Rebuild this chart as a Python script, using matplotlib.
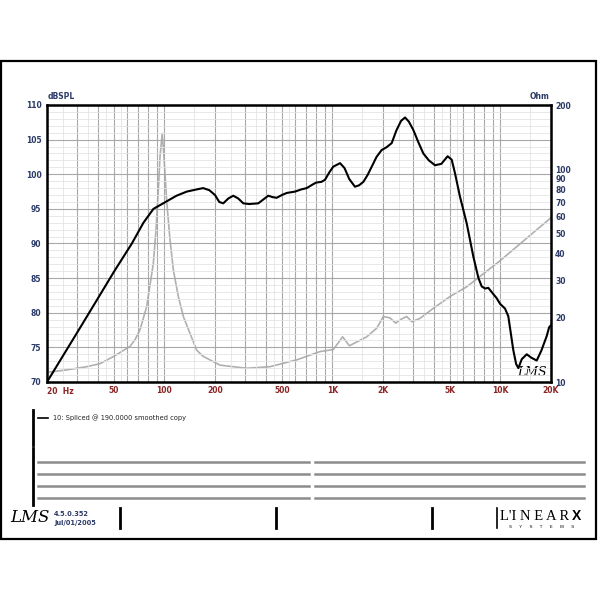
import numpy as np
import matplotlib.pyplot as plt
from matplotlib.patches import Rectangle
from matplotlib.ticker import NullFormatter

# SPL response (Hz, dB)
spl_freq = [20, 30, 40, 50, 64, 75, 86, 100, 118, 136, 155, 170, 185, 200, 212, 224,
            240, 257, 275, 295, 320, 362, 390, 415, 440, 466, 500, 535, 600, 650, 703,
            760, 800, 860, 903, 960, 1012, 1110, 1180, 1260, 1362, 1440, 1528, 1620,
            1714, 1830, 1964, 2100, 2254, 2400, 2560, 2706, 2850, 3030, 3250, 3476,
            3750, 4080, 4450, 4850, 5130, 5370, 5740, 6300, 6900, 7400, 7740, 8100,
            8470, 9000, 9500, 9940, 10650, 11140, 11930, 12400, 12790, 13400, 14340,
            15300, 16440, 17500, 18840, 19500, 20000]
spl_db = [70.0, 77.0, 82.0, 85.9, 90.0, 93.0, 95.0, 95.9, 96.9, 97.5, 97.8, 98.0, 97.7,
          97.0, 96.0, 95.8, 96.5, 96.9, 96.5, 95.8, 95.7, 95.8, 96.4, 96.9, 96.7, 96.6,
          97.0, 97.3, 97.5, 97.8, 98.0, 98.5, 98.8, 98.9, 99.2, 100.3, 101.1, 101.6,
          100.9, 99.3, 98.2, 98.4, 98.9, 99.9, 101.1, 102.5, 103.5, 103.9, 104.5, 106.3,
          107.7, 108.2, 107.6, 106.4, 104.6, 103.0, 102.0, 101.3, 101.5, 102.6, 102.1,
          100.1, 96.8, 92.9, 88.1, 85.0, 83.8, 83.5, 83.6, 82.8, 82.1, 81.3, 80.6, 79.5,
          74.6, 72.6, 72.0, 73.3, 74.0, 73.5, 73.1, 74.5, 76.6, 77.9, 78.2]

# impedance (Hz, Ohm)
imp_freq = [20, 26.2, 34.5, 41.4, 50, 62.4, 66.8, 71.6, 78.4, 85.9, 89.1, 92, 94.1, 97,
            99.4, 103, 108, 113, 121, 129.6, 155.6, 170, 214, 309, 425, 612, 844, 1012,
            1150, 1262, 1600, 1835, 2010, 2200, 2382, 2524, 2768, 2966, 3323, 3990,
            5010, 6300, 9940, 20000]
imp_ohm = [11.1, 11.4, 11.8, 12.2, 13.2, 14.7, 15.8, 17.6, 22.6, 36.1, 51.8, 79.8, 114,
           147, 114, 71.7, 46.4, 33.6, 25.2, 20.3, 14.1, 13.2, 12.0, 11.6, 11.8, 12.7,
           13.9, 14.2, 16.3, 14.8, 16.3, 17.9, 20.3, 20.0, 18.9, 19.6, 20.3, 19.2, 19.9,
           22.2, 25.2, 28.0, 37.1, 59.1]

x_labels = {50: '50', 100: '100', 200: '200', 500: '500', 1000: '1K', 2000: '2K',
            5000: '5K', 10000: '10K', 20000: '20K'}
ohm_ticks = [10, 20, 30, 40, 50, 60, 70, 80, 90, 100, 200]

navy = '#2b3a67'
maroon = '#8b2323'

fig = plt.figure(figsize=(6, 6), dpi=100)

# decoration layer in pixel coords
deco = fig.add_axes([0, 0, 1, 1], zorder=0)
deco.set_xlim(0, 600)
deco.set_ylim(600, 0)
deco.axis('off')
deco.add_patch(Rectangle((1, 61), 595, 478, fill=False, ec='black', lw=1.6))

ax = fig.add_axes([47 / 600, 1 - 382 / 600, 504 / 600, 277 / 600], zorder=2)
ax.set_xscale('log')
ax.set_xlim(20, 20000)
ax.set_ylim(70, 110)

major_x = [m * 10 ** d for d in range(1, 5) for m in range(1, 10) if 20 <= m * 10 ** d <= 20000]
minor_x = [(m + 0.5) * 10 ** d for d in range(1, 5) for m in range(1, 6)
           if 20 <= (m + 0.5) * 10 ** d <= 20000]
ax.set_xticks(major_x)
ax.set_xticks(minor_x, minor=True)
ax.xaxis.set_minor_formatter(NullFormatter())
ax.set_xticklabels([x_labels.get(v, '') for v in major_x])
ax.set_yticks(np.arange(70, 111, 5))
ax.set_yticks(np.arange(70, 111, 1), minor=True)
ax.yaxis.set_minor_formatter(NullFormatter())
ax.grid(which='major', color='#a8a8a8', lw=0.8)
ax.grid(which='minor', color='#e4e4e4', lw=0.6)
ax.set_axisbelow(True)
ax.tick_params(which='both', length=0)
ax.tick_params(axis='x', labelsize=5.5, labelcolor=maroon, pad=3)
ax.tick_params(axis='y', labelsize=5.5, labelcolor=navy, pad=4)
for lab in ax.get_xticklabels():
    lab.set_fontweight('bold')
for lab in ax.get_yticklabels():
    lab.set_fontweight('bold')
ax.text(20, 69.25, '20  Hz', color=maroon, fontsize=5.5, fontweight='bold',
        ha='left', va='top')
for s in ax.spines.values():
    s.set_linewidth(1.8)

ax.plot(spl_freq, spl_db, color='black', lw=1.5, zorder=4)

ax2 = ax.twinx()
ax2.set_yscale('log')
ax2.set_ylim(10, 200)
ax2.set_yticks(ohm_ticks)
ax2.set_yticklabels([str(v) for v in ohm_ticks])
ax2.yaxis.set_minor_locator(plt.NullLocator())
ax2.tick_params(length=0, labelsize=5.5, labelcolor=navy, pad=3)
for lab in ax2.get_yticklabels():
    lab.set_fontweight('bold')
ax2.plot(imp_freq, imp_ohm, color='#b0b0b0', lw=1.2, zorder=3)
ax.set_zorder(3)
ax.patch.set_visible(False)
ax2.set_zorder(2)

fig.text(48 / 600, 1 - 101 / 600, 'dBSPL', color=navy, fontsize=5.5, fontweight='bold',
         ha='left', va='bottom')
fig.text(549 / 600, 1 - 101 / 600, 'Ohm', color=navy, fontsize=5.5, fontweight='bold',
         ha='right', va='bottom')

# LMS watermark in plot
deco.text(532, 372, 'LMS', fontsize=9, style='italic', ha='center', va='center',
          zorder=10, family='DejaVu Serif')

# legend / notes block
deco.plot([32.7, 32.7], [410, 445], color='black', lw=2)
deco.plot([32.7, 32.7], [448, 505], color='black', lw=2)
deco.plot([38, 48], [418, 418], color='black', lw=1.2)
deco.text(53, 418, '10: Spliced @ 190.0000 smoothed copy', fontsize=4.8,
          va='center', ha='left', color='#222222')
for y in [461.7, 474, 485.7, 497.7]:
    deco.plot([38, 309], [y, y], color='#8c8c8c', lw=1.8)
    deco.plot([315, 584], [y, y], color='#8c8c8c', lw=1.8)

# footer
deco.text(30, 517, 'LMS', fontsize=12, style='italic', ha='center', va='center',
          family='DejaVu Serif')
deco.text(54, 514, '4.5.0.352', fontsize=4.8, color=navy, fontweight='bold',
          ha='left', va='center')
deco.text(54, 523, 'Jul/01/2005', fontsize=4.8, color=navy, fontweight='bold',
          ha='left', va='center')
for x in [120, 276, 432, 497]:
    deco.plot([x, x], [508, 528], color='black', lw=2 if x != 497 else 1.2)
deco.text(500, 516, "L'I N E A R", fontsize=10.5, family='Liberation Serif', ha='left',
          va='center')
deco.text(572, 516, 'X', fontsize=10, family='Liberation Sans', fontweight='bold',
          ha='left', va='center')
deco.text(542, 527, 'S      Y      S      T      E      M      S', fontsize=3.2,
          ha='center', va='center', family='Liberation Sans')

fig.savefig('out.png', dpi=100)
